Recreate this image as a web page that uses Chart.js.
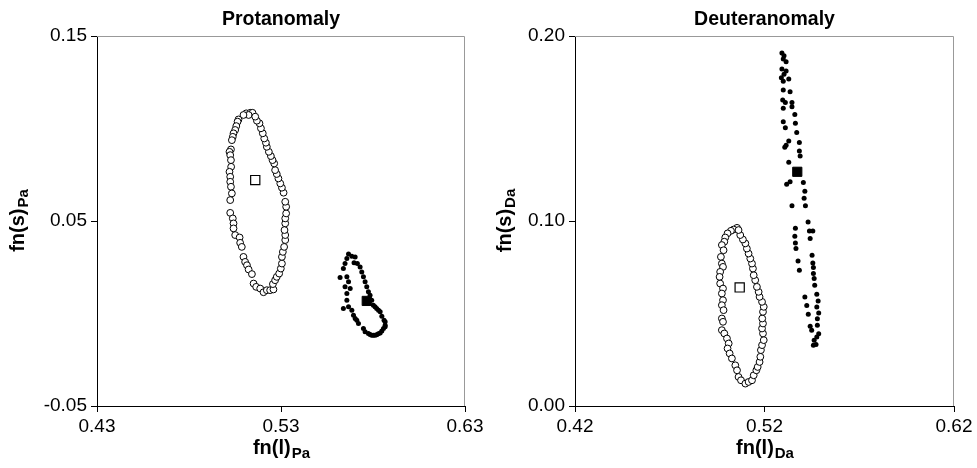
<!DOCTYPE html>
<html>
<head>
<meta charset="utf-8">
<script src="https://cdn.jsdelivr.net/npm/chart.js@4/dist/chart.umd.min.js"></script>
<style>
  body { margin: 0; background: #fff; }
  #wrap { position: relative; width: 977px; height: 468px; }
  canvas { position: absolute; top: 0; }
  #cP { left: 0; }
  #cD { left: 487px; }
</style>
</head>
<body>
<div id="wrap">
  <canvas id="cP" width="487" height="468"></canvas>
  <canvas id="cD" width="490" height="468"></canvas>
</div>
<script>
// ticks
const xTicksP = [0.43, 0.53, 0.63];
const yTicksP = [-0.05, 0.05, 0.15];
const xTicksD = [0.42, 0.52, 0.62];
const yTicksD = [0.00, 0.10, 0.20];

// Protanomaly - normal observers (open circles)
const protNormal = [
  [0.5111,0.1082],[0.5133,0.1085],[0.5145,0.1085],[0.5124,0.1073],[0.5096,0.1073],[0.5069,0.1049],
  [0.5064,0.1037],[0.5057,0.1013],[0.5051,0.0992],[0.5042,0.0974],[0.5038,0.0955],[0.5033,0.0937],
  [0.5028,0.0887],[0.5020,0.0874],[0.5024,0.0856],[0.5028,0.0829],[0.5029,0.0793],[0.5020,0.0766],
  [0.5024,0.0739],[0.5024,0.0712],[0.5028,0.0685],[0.5033,0.0649],[0.5024,0.0613],[0.5024,0.0544],
  [0.5038,0.0514],[0.5042,0.0487],[0.5042,0.0460],[0.5051,0.0424],[0.5075,0.0411],[0.5078,0.0382],
  [0.5087,0.0360],[0.5096,0.0306],[0.5105,0.0279],[0.5115,0.0261],[0.5124,0.0238],[0.5142,0.0213],
  [0.5151,0.0162],[0.5165,0.0144],[0.5187,0.0135],[0.5205,0.0115],[0.5223,0.0126],[0.5241,0.0126],
  [0.5259,0.0130],[0.5256,0.0159],[0.5268,0.0180],[0.5277,0.0198],[0.5290,0.0216],[0.5299,0.0243],
  [0.5305,0.0270],[0.5305,0.0306],[0.5310,0.0333],[0.5317,0.0360],[0.5323,0.0397],[0.5323,0.0424],
  [0.5319,0.0451],[0.5323,0.0487],[0.5323,0.0514],[0.5328,0.0541],[0.5328,0.0577],[0.5323,0.0604],
  [0.5314,0.0653],[0.5305,0.0680],[0.5296,0.0703],[0.5286,0.0730],[0.5277,0.0754],[0.5268,0.0775],
  [0.5263,0.0811],[0.5254,0.0829],[0.5245,0.0851],[0.5234,0.0874],[0.5223,0.0901],[0.5218,0.0923],
  [0.5209,0.0946],[0.5201,0.0974],[0.5191,0.1001],[0.5183,0.1028],[0.5169,0.1042],[0.5160,0.1064]
];
const protNormalMean = [[0.5160,0.0721]];

// Protanomaly - anomalous observers (filled dots)
const protAnomal = [
  [0.5667,0.0321],[0.5685,0.0310],[0.5703,0.0306],[0.5658,0.0297],[0.5648,0.0270],[0.5697,0.0274],
  [0.5715,0.0270],[0.5730,0.0252],[0.5639,0.0243],[0.5739,0.0225],[0.5748,0.0198],[0.5621,0.0195],
  [0.5658,0.0198],[0.5667,0.0171],[0.5648,0.0144],[0.5676,0.0135],[0.5658,0.0108],[0.5757,0.0171],
  [0.5766,0.0144],[0.5775,0.0117],[0.5784,0.0099],[0.5793,0.0072],[0.5802,0.0045],[0.5811,0.0036],
  [0.5820,0.0027],[0.5830,0.0018],[0.5839,0.0009],[0.5848,-0.0015],[0.5860,-0.0036],[0.5866,-0.0045],
  [0.5866,-0.0063],[0.5866,-0.0072],[0.5857,-0.0081],[0.5848,-0.0094],[0.5839,-0.0105],[0.5829,-0.0110],
  [0.5820,-0.0115],[0.5811,-0.0117],[0.5802,-0.0118],[0.5793,-0.0117],[0.5784,-0.0114],[0.5775,-0.0108],
  [0.5757,-0.0099],[0.5748,-0.0081],[0.5721,-0.0054],[0.5712,-0.0036],[0.5703,-0.0027],[0.5694,-0.0009],
  [0.5685,0.0018],[0.5667,0.0036],[0.5639,0.0027],[0.5658,0.0072]
];
const protAnomalMean = [[0.5766,0.0068]];

// Deuteranomaly - normal observers (open circles)
const deutNormal = [
  [0.5055,0.0963],[0.5037,0.0954],[0.5023,0.0947],[0.5005,0.0933],[0.4993,0.0911],[0.4988,0.0888],
  [0.4975,0.0870],[0.4984,0.0842],[0.4970,0.0806],[0.4975,0.0770],[0.4981,0.0752],[0.4966,0.0725],
  [0.4963,0.0698],[0.4966,0.0662],[0.4981,0.0635],[0.4975,0.0608],[0.4981,0.0572],[0.4975,0.0545],
  [0.4984,0.0518],[0.4975,0.0473],[0.4981,0.0455],[0.4975,0.0410],[0.4988,0.0392],[0.5002,0.0365],
  [0.5011,0.0338],[0.5005,0.0311],[0.5016,0.0284],[0.5028,0.0257],[0.5046,0.0220],[0.5055,0.0193],
  [0.5063,0.0157],[0.5076,0.0139],[0.5099,0.0121],[0.5116,0.0130],[0.5134,0.0139],[0.5143,0.0166],
  [0.5157,0.0193],[0.5164,0.0211],[0.5174,0.0238],[0.5178,0.0266],[0.5181,0.0302],[0.5187,0.0329],
  [0.5196,0.0356],[0.5192,0.0392],[0.5187,0.0419],[0.5192,0.0446],[0.5188,0.0473],[0.5192,0.0509],
  [0.5196,0.0536],[0.5187,0.0563],[0.5174,0.0590],[0.5169,0.0617],[0.5160,0.0644],[0.5151,0.0680],
  [0.5143,0.0707],[0.5139,0.0743],[0.5134,0.0770],[0.5125,0.0797],[0.5116,0.0824],[0.5107,0.0851],
  [0.5099,0.0879],[0.5086,0.0900],[0.5072,0.0924],[0.5063,0.0951]
];
const deutNormalMean = [[0.5069,0.0641]];

// Deuteranomaly - anomalous observers (filled dots)
const deutAnomal = [
  [0.5292,0.1908],[0.5303,0.1893],[0.5299,0.1876],[0.5314,0.1861],[0.5292,0.1821],[0.5314,0.1811],
  [0.5303,0.1793],[0.5289,0.1774],[0.5328,0.1767],[0.5299,0.1756],[0.5299,0.1708],[0.5335,0.1699],
  [0.5296,0.1654],[0.5310,0.1641],[0.5345,0.1641],[0.5299,0.1609],[0.5345,0.1617],[0.5360,0.1576],
  [0.5299,0.1536],[0.5310,0.1504],[0.5363,0.1529],[0.5370,0.1479],[0.5328,0.1432],[0.5314,0.1410],
  [0.5307,0.1399],[0.5384,0.1425],[0.5384,0.1378],[0.5388,0.1352],[0.5328,0.1317],[0.5317,0.1198],
  [0.5335,0.1212],[0.5405,0.1208],[0.5413,0.1161],[0.5409,0.1123],[0.5345,0.1082],[0.5416,0.1082],
  [0.5430,0.0995],[0.5437,0.0946],[0.5455,0.0946],[0.5363,0.0961],[0.5360,0.0918],[0.5441,0.0905],
  [0.5363,0.0881],[0.5366,0.0851],[0.5451,0.0815],[0.5377,0.0784],[0.5455,0.0773],[0.5384,0.0734],
  [0.5458,0.0748],[0.5458,0.0716],[0.5462,0.0689],[0.5465,0.0653],[0.5413,0.0589],[0.5476,0.0604],
  [0.5483,0.0568],[0.5423,0.0543],[0.5476,0.0535],[0.5486,0.0503],[0.5431,0.0496],[0.5479,0.0472],
  [0.5441,0.0431],[0.5479,0.0436],[0.5449,0.0409],[0.5486,0.0391],[0.5476,0.0373],[0.5462,0.0355],
  [0.5472,0.0333],[0.5458,0.0328]
];
const deutAnomalMean = [[0.5373,0.1266]];

const FONT = '"Liberation Sans", Arial, Helvetica, sans-serif';

function pts(arr) {
  return arr.map(([x, y]) => ({ x, y }));
}

// texto principal + subscrito
function textoSub(ctx, main, sub, cx, y) {
  ctx.font = 'bold 20px ' + FONT;
  const w1 = ctx.measureText(main).width;
  ctx.font = 'bold 15px ' + FONT;
  const w2 = ctx.measureText(sub).width;
  const x0 = cx - (w1 + w2) / 2;
  ctx.textAlign = 'left';
  ctx.textBaseline = 'alphabetic';
  ctx.font = 'bold 20px ' + FONT;
  ctx.fillText(main, x0, y);
  ctx.font = 'bold 15px ' + FONT;
  ctx.fillText(sub, x0 + w1 + 1, y + 3.5);
}

const decor = {
  id: 'decor',
  beforeDatasetsDraw(chart) {
    const { ctx, chartArea: a } = chart;
    ctx.save();
    ctx.strokeStyle = '#999';
    ctx.lineWidth = 1;
    ctx.beginPath();
    ctx.moveTo(a.left, Math.round(a.top) + 0.5);
    ctx.lineTo(Math.round(a.right) - 0.5, Math.round(a.top) + 0.5);
    ctx.lineTo(Math.round(a.right) - 0.5, a.bottom);
    ctx.stroke();
    ctx.restore();
  },
  afterDraw(chart, args, opts) {
    const { ctx, chartArea: a } = chart;
    const cx = (a.left + a.right) / 2;
    const cy = (a.top + a.bottom) / 2;
    ctx.save();
    ctx.fillStyle = '#000';
    ctx.font = 'bold 19.5px ' + FONT;
    ctx.textAlign = 'center';
    ctx.textBaseline = 'alphabetic';
    ctx.fillText(opts.titulo, cx, 25);
    textoSub(ctx, opts.xMain, opts.sub, cx, 454);
    ctx.translate(24, cy);
    ctx.rotate(-Math.PI / 2);
    textoSub(ctx, opts.yMain, opts.sub, 0, 0);
    ctx.restore();
  }
};

function criarGrafico(id, cfg) {
  const ctx = document.getElementById(id).getContext('2d');
  const tickFont = { family: FONT, size: 19 };
  return new Chart(ctx, {
    type: 'scatter',
    data: {
      datasets: [
        { data: pts(cfg.normal), pointStyle: 'circle', pointRadius: 3.4, pointBackgroundColor: '#fff',
          pointBorderColor: '#000', pointBorderWidth: 1 },
        { data: pts(cfg.anomal), pointStyle: 'circle', pointRadius: 2.5, pointBackgroundColor: '#000',
          pointBorderColor: '#000', pointBorderWidth: 0 },
        { data: pts(cfg.normalMean), pointStyle: 'rect', pointRadius: 6.5, pointBackgroundColor: '#fff',
          pointBorderColor: '#000', pointBorderWidth: 1.2 },
        { data: pts(cfg.anomalMean), pointStyle: 'rect', pointRadius: 6.5, pointBackgroundColor: '#000',
          pointBorderColor: '#000', pointBorderWidth: 1 }
      ]
    },
    options: {
      responsive: false,
      animation: false,
      devicePixelRatio: 1,
      layout: { padding: { top: 36, right: cfg.padRight, left: 0, bottom: 0 } },
      scales: {
        x: {
          type: 'linear',
          min: cfg.xTicks[0],
          max: cfg.xTicks[cfg.xTicks.length - 1],
          afterBuildTicks: s => { s.ticks = cfg.xTicks.map(v => ({ value: v })); },
          afterFit: s => { s.height = 62; },
          ticks: { callback: v => v.toFixed(2), font: tickFont, color: '#000', padding: 3,
                   maxRotation: 0, autoSkip: false },
          grid: { drawOnChartArea: false, tickLength: 6, color: '#000' },
          border: { color: '#000', width: 1 }
        },
        y: {
          type: 'linear',
          min: cfg.yTicks[0],
          max: cfg.yTicks[cfg.yTicks.length - 1],
          afterBuildTicks: s => { s.ticks = cfg.yTicks.map(v => ({ value: v })); },
          afterFit: s => { s.width = cfg.yWidth; },
          ticks: { callback: v => v.toFixed(2), font: tickFont, color: '#000', padding: 4, autoSkip: false },
          grid: { drawOnChartArea: false, tickLength: 6, color: '#000' },
          border: { color: '#000', width: 1 }
        }
      },
      plugins: {
        legend: { display: false },
        tooltip: { enabled: false },
        decor: { titulo: cfg.titulo, xMain: 'fn(l)', yMain: 'fn(s)', sub: cfg.sub }
      }
    },
    plugins: [decor]
  });
}

criarGrafico('cP', {
  titulo: 'Protanomaly', sub: 'Pa', xTicks: xTicksP, yTicks: yTicksP,
  normal: protNormal, anomal: protAnomal, normalMean: protNormalMean, anomalMean: protAnomalMean,
  yWidth: 97, padRight: 22
});

criarGrafico('cD', {
  titulo: 'Deuteranomaly', sub: 'Da', xTicks: xTicksD, yTicks: yTicksD,
  normal: deutNormal, anomal: deutAnomal, normalMean: deutNormalMean, anomalMean: deutAnomalMean,
  yWidth: 88, padRight: 23
});
</script>
</body>
</html>
